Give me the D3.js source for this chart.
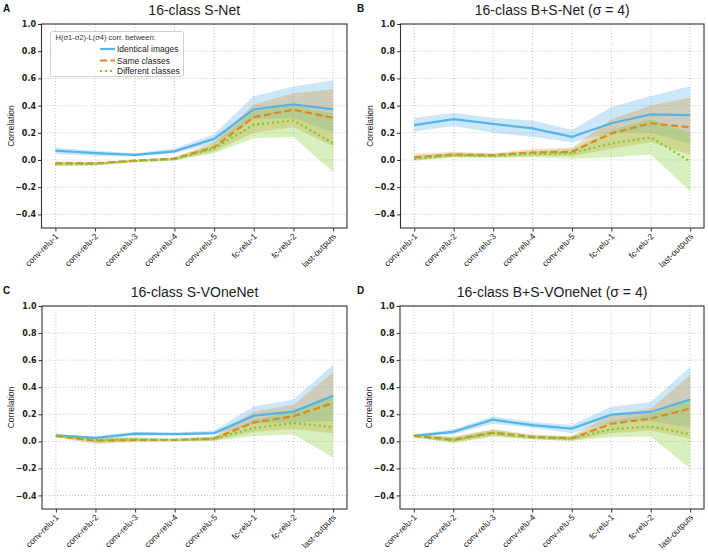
<!DOCTYPE html>
<html><head><meta charset="utf-8">
<script src="https://cdn.jsdelivr.net/npm/d3@7"></script>
<style>body{margin:0;background:#fff}svg{display:block;font-family:"Liberation Sans",Arial,sans-serif}</style>
</head><body><svg id="c" width="708" height="554"></svg>
<script>
const categories = ["conv-relu-1","conv-relu-2","conv-relu-3","conv-relu-4","conv-relu-5","fc-relu-1","fc-relu-2","last-outputs"];
const yTicks = [-0.4,-0.2,0.0,0.2,0.4,0.6,0.8,1.0];
const seriesNames = ["Identical images","Same classes","Different classes"];
const legendTitle = "H(σ1-σ2)-L(σ4) corr. between:";
const panelTitles = ["16-class S-Net","16-class B+S-Net (σ = 4)","16-class S-VOneNet","16-class B+S-VOneNet (σ = 4)"];
const panelLetters = ["A","B","C","D"];

// Panel A
const aIdent = [0.069,0.05,0.037,0.064,0.155,0.372,0.409,0.372];
const aIdentLo = [0.045,0.03,0.025,0.05,0.12,0.30,0.31,0.20];
const aIdentHi = [0.09,0.07,0.05,0.085,0.19,0.47,0.54,0.586];
const aSame = [-0.025,-0.025,-0.005,0.01,0.094,0.315,0.37,0.31];
const aSameLo = [-0.04,-0.035,-0.012,0.0,0.06,0.20,0.24,0.10];
const aSameHi = [-0.01,-0.015,0.002,0.02,0.13,0.41,0.49,0.52];
const aDiff = [-0.03,-0.03,-0.008,0.005,0.085,0.26,0.29,0.123];
const aDiffLo = [-0.045,-0.04,-0.015,-0.005,0.05,0.16,0.17,-0.09];
const aDiffHi = [-0.015,-0.02,0.0,0.015,0.12,0.36,0.40,0.34];
// Panel B
const bIdent = [0.257,0.30,0.265,0.233,0.17,0.27,0.335,0.33];
const bIdentLo = [0.21,0.25,0.20,0.17,0.13,0.20,0.20,0.12];
const bIdentHi = [0.31,0.345,0.31,0.29,0.22,0.39,0.47,0.545];
const bSame = [0.02,0.04,0.035,0.055,0.06,0.196,0.27,0.24];
const bSameLo = [0.0,0.02,0.02,0.03,0.03,0.08,0.13,0.04];
const bSameHi = [0.045,0.06,0.05,0.08,0.09,0.30,0.40,0.46];
const bDiff = [0.01,0.035,0.03,0.045,0.05,0.122,0.167,-0.012];
const bDiffLo = [-0.005,0.02,0.015,0.02,0.01,0.02,0.04,-0.23];
const bDiffHi = [0.03,0.05,0.045,0.065,0.08,0.22,0.30,0.20];
// Panel C
const cIdent = [0.044,0.025,0.057,0.054,0.061,0.19,0.22,0.336];
const cIdentLo = [0.035,0.015,0.04,0.045,0.05,0.13,0.14,0.15];
const cIdentHi = [0.05,0.035,0.07,0.065,0.08,0.26,0.31,0.565];
const cSame = [0.04,0.005,0.01,0.01,0.02,0.14,0.185,0.283];
const cSameLo = [0.03,-0.02,-0.005,0.0,0.005,0.07,0.09,0.06];
const cSameHi = [0.05,0.03,0.025,0.02,0.035,0.22,0.27,0.51];
const cDiff = [0.04,0.01,0.015,0.01,0.02,0.098,0.135,0.105];
const cDiffLo = [0.03,-0.01,0.0,0.0,0.005,0.04,0.05,-0.12];
const cDiffHi = [0.05,0.03,0.03,0.02,0.035,0.16,0.22,0.33];
// Panel D
const dIdent = [0.04,0.07,0.16,0.12,0.094,0.197,0.217,0.309];
const dIdentLo = [0.035,0.05,0.13,0.10,0.06,0.14,0.15,0.10];
const dIdentHi = [0.05,0.09,0.185,0.145,0.12,0.255,0.29,0.55];
const dSame = [0.04,0.012,0.064,0.032,0.022,0.13,0.168,0.242];
const dSameLo = [0.03,-0.01,0.04,0.015,0.005,0.06,0.08,0.02];
const dSameHi = [0.05,0.035,0.09,0.05,0.04,0.20,0.24,0.49];
const dDiff = [0.04,0.01,0.06,0.03,0.02,0.089,0.11,0.052];
const dDiffLo = [0.03,-0.01,0.035,0.015,0.005,0.03,0.035,-0.20];
const dDiffHi = [0.05,0.03,0.085,0.045,0.035,0.15,0.20,0.31];

const panelData = [
  [[aIdent,aIdentLo,aIdentHi],[aSame,aSameLo,aSameHi],[aDiff,aDiffLo,aDiffHi]],
  [[bIdent,bIdentLo,bIdentHi],[bSame,bSameLo,bSameHi],[bDiff,bDiffLo,bDiffHi]],
  [[cIdent,cIdentLo,cIdentHi],[cSame,cSameLo,cSameHi],[cDiff,cDiffLo,cDiffHi]],
  [[dIdent,dIdentLo,dIdentHi],[dSame,dSameLo,dSameHi],[dDiff,dDiffLo,dDiffHi]]
];

const colors = ["#56B4E9","#D98B2B","#7ACC29"];
const dashes = [null,"7,3.5","2,3"];
const frames = [
  {x0:41.5,x1:347,y0:24,y1:228, lx:0, ly:0},
  {x0:400.5,x1:704,y0:24,y1:228, lx:354, ly:0},
  {x0:42,x1:347,y0:306,y1:509, lx:0, ly:282},
  {x0:400,x1:704,y0:306,y1:509, lx:354, ly:282}
];

const svg = d3.select("#c");

frames.forEach((f,pi)=>{
  const g = svg.append("g");
  const x = d3.scaleLinear().domain([-0.35,categories.length-1+0.35]).range([f.x0,f.x1]);
  const y = d3.scaleLinear().domain([-0.5,1.0]).range([f.y1,f.y0]);
  // grid
  g.append("g").selectAll("line").data(categories).join("line")
    .attr("x1",(d,i)=>x(i)).attr("x2",(d,i)=>x(i)).attr("y1",f.y0).attr("y2",f.y1)
    .attr("stroke","#b8b8b8").attr("stroke-width",0.8).attr("stroke-dasharray","1,2");
  g.append("g").selectAll("line").data(yTicks).join("line")
    .attr("x1",f.x0).attr("x2",f.x1).attr("y1",d=>y(d)).attr("y2",d=>y(d))
    .attr("stroke","#b8b8b8").attr("stroke-width",0.8).attr("stroke-dasharray","1,2");
  // bands
  const data = panelData[pi];
  data.forEach((s,si)=>{
    const area = d3.area().x((d,i)=>x(i)).y0((d,i)=>y(s[1][i])).y1((d,i)=>y(s[2][i]));
    g.append("path").datum(s[0]).attr("d",area).attr("fill",colors[si]).attr("fill-opacity",0.3).attr("stroke","none");
  });
  data.forEach((s,si)=>{
    const line = d3.line().x((d,i)=>x(i)).y(d=>y(d));
    const p = g.append("path").datum(s[0]).attr("d",line).attr("fill","none")
      .attr("stroke",colors[si]).attr("stroke-width",2.2);
    if (dashes[si]) p.attr("stroke-dasharray",dashes[si]);
  });
  // axes
  const ya = d3.axisLeft(y).tickValues(yTicks).tickSize(3.5).tickPadding(2)
    .tickFormat(d=>d3.format(".1f")(d).replace("-","\u2212"));
  const yg = g.append("g").attr("transform",`translate(${f.x0},0)`).call(ya);
  yg.select(".domain").remove();
  yg.selectAll("text").attr("fill","#222").attr("font-family","'DejaVu Sans',sans-serif").attr("font-weight","bold").attr("font-size",8);
  yg.selectAll("line").attr("stroke","#333");
  const xa = d3.axisBottom(x).tickValues(d3.range(categories.length)).tickSize(3.5).tickFormat(i=>categories[i]);
  const xg = g.append("g").attr("transform",`translate(0,${f.y1})`).call(xa);
  xg.select(".domain").remove();
  xg.selectAll("line").attr("stroke","#333");
  xg.selectAll("text").attr("font-size",8.5).attr("fill","#222")
    .attr("text-anchor","end").attr("dy",null).attr("y",null)
    .attr("transform","translate(3,9) rotate(-45)");
  // frame
  g.append("rect").attr("x",f.x0).attr("y",f.y0).attr("width",f.x1-f.x0).attr("height",f.y1-f.y0)
    .attr("fill","none").attr("stroke","#333").attr("stroke-width",1.1);
  // labels
  g.append("text").attr("x",(f.x0+f.x1)/2).attr("y",f.y0-9).attr("text-anchor","middle")
    .attr("font-size",14).attr("fill","#222").text(panelTitles[pi]);
  g.append("text").attr("x",f.lx+3).attr("y",f.ly+12).attr("font-size",10).attr("font-weight","bold")
    .attr("fill","#111").text(panelLetters[pi]);
  g.append("text").attr("transform",`translate(${f.x0-28},${(f.y0+f.y1)/2}) rotate(-90)`)
    .attr("text-anchor","middle").attr("font-size",8.5).attr("fill","#222").text("Correlation");
  if (pi===0) {
    const lg = g.append("g");
    lg.append("rect").attr("x",50.5).attr("y",31.5).attr("width",133).attr("height",45).attr("rx",2)
      .attr("fill","#fff").attr("fill-opacity",0.8).attr("stroke","#d0d0d0").attr("stroke-width",1);
    lg.append("text").attr("x",55.5).attr("y",40).attr("font-size",7.5).attr("fill","#333").text(legendTitle);
    const rows = [49,60.5,71];
    seriesNames.forEach((n,si)=>{
      const l = lg.append("line").attr("x1",100).attr("x2",115).attr("y1",rows[si]).attr("y2",rows[si])
        .attr("stroke",colors[si]).attr("stroke-width",2.2);
      if (dashes[si]) l.attr("stroke-dasharray",dashes[si]);
      lg.append("text").attr("x",117).attr("y",rows[si]+3).attr("font-size",8.5).attr("fill","#222").text(n);
    });
  }
});
</script></body></html>
